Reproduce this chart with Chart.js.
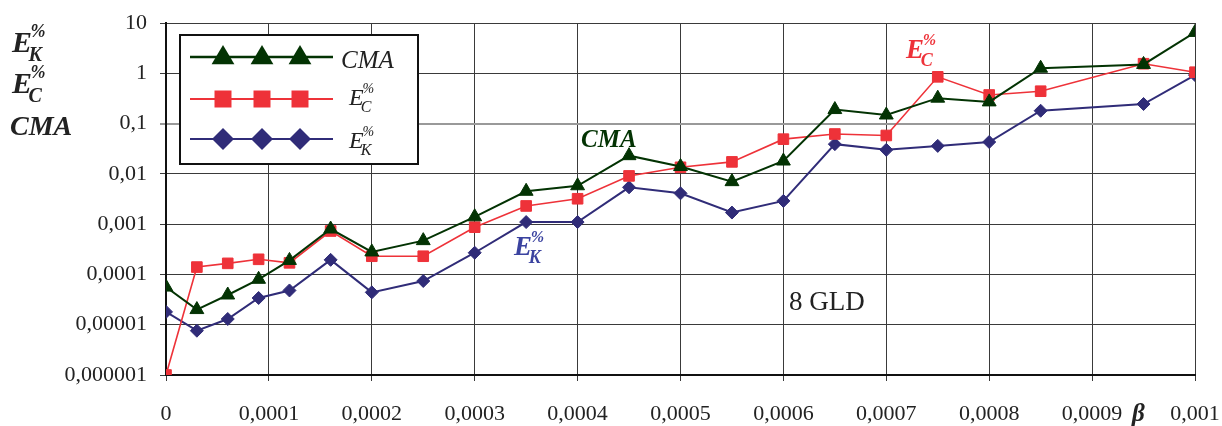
<!DOCTYPE html>
<html>
<head>
<meta charset="utf-8">
<script src="https://cdn.jsdelivr.net/npm/chart.js@4/dist/chart.umd.min.js"></script>
<style>
  html, body { margin: 0; padding: 0; background: #fff; }
  #wrap { width: 1222px; height: 426px; }
</style>
</head>
<body>
<div id="wrap"><canvas id="myChart" width="1222" height="426"></canvas></div>
<script>
// beta values (x) and the three series
const beta = [0, 0.00003, 0.00006, 0.00009, 0.00012, 0.00016, 0.0002, 0.00025, 0.0003, 0.00035, 0.0004,
  0.00045, 0.0005, 0.00055, 0.0006, 0.00065, 0.0007, 0.00075, 0.0008, 0.00085, 0.00095, 0.001];
const cma = [5.6e-5, 2.0e-5, 3.9e-5, 8.0e-5, 1.9e-4, 8.0e-4, 2.8e-4, 4.7e-4, 1.4e-3, 4.5e-3, 5.8e-3,
  0.023, 0.014, 0.007, 0.018, 0.19, 0.148, 0.32, 0.27, 1.26, 1.5, 6.5];
const ec = [1e-6, 1.4e-4, 1.66e-4, 2.0e-4, 1.7e-4, 7.3e-4, 2.3e-4, 2.3e-4, 8.7e-4, 2.3e-3, 3.2e-3,
  0.0091, 0.0135, 0.0173, 0.049, 0.062, 0.058, 0.85, 0.37, 0.44, 1.55, 1.05];
const ek = [1.8e-5, 7.6e-6, 1.3e-5, 3.4e-5, 4.8e-5, 1.95e-4, 4.4e-5, 7.4e-5, 2.7e-4, 1.1e-3, 1.1e-3,
  5.4e-3, 4.1e-3, 1.7e-3, 2.9e-3, 0.039, 0.030, 0.036, 0.043, 0.18, 0.245, 0.92];

const yTicks = [1e-6, 1e-5, 1e-4, 1e-3, 1e-2, 1e-1, 1, 10];
const yTickLabels = ['0,000001', '0,00001', '0,0001', '0,001', '0,01', '0,1', '1', '10'];
const xTicks = [0, 0.0001, 0.0002, 0.0003, 0.0004, 0.0005, 0.0006, 0.0007, 0.0008, 0.0009, 0.001];
const xTickLabels = ['0', '0,0001', '0,0002', '0,0003', '0,0004', '0,0005', '0,0006', '0,0007', '0,0008', '0,0009', '0,001'];

const GREEN = '#033303';
const RED = '#ee3239';
const BLUE = '#302c78';
const SERIF = '"Liberation Serif", "Times New Roman", serif';

const toPoints = (ys) => beta.map((b, i) => ({ x: b, y: ys[i] }));

// E with subscript letter and % superscript
function drawE(ctx, x, base, sub, size, color, bold) {
  const b = bold ? 'bold ' : '';
  ctx.fillStyle = color;
  ctx.textAlign = 'left';
  ctx.textBaseline = 'alphabetic';
  ctx.font = b + 'italic ' + size + 'px ' + SERIF;
  ctx.fillText('E', x, base);
  const w = ctx.measureText('E').width;
  ctx.font = b + 'italic ' + Math.round(size * 0.66) + 'px ' + SERIF;
  ctx.fillText(sub, x + w - size * 0.12, base + size * 0.3);
  ctx.font = b + 'italic ' + Math.round(size * 0.6) + 'px ' + SERIF;
  ctx.fillText('%', x + w - size * 0.05, base - size * 0.5);
}

function marker(ctx, type, x, y, r, color) {
  ctx.fillStyle = color;
  ctx.beginPath();
  if (type === 'tri') {
    ctx.moveTo(x, y - r);
    ctx.lineTo(x + r * 0.95, y + r * 0.6);
    ctx.lineTo(x - r * 0.95, y + r * 0.6);
  } else if (type === 'sq') {
    ctx.rect(x - r, y - r, 2 * r, 2 * r);
  } else {
    ctx.moveTo(x - r, y);
    ctx.lineTo(x, y - r);
    ctx.lineTo(x + r, y);
    ctx.lineTo(x, y + r);
  }
  ctx.closePath();
  ctx.fill();
}

const extras = {
  id: 'extras',
  afterDraw(chart) {
    const ctx = chart.ctx;
    ctx.save();
    // legend box
    ctx.fillStyle = '#fff';
    ctx.fillRect(180, 35, 238, 129);
    ctx.strokeStyle = '#111';
    ctx.lineWidth = 2;
    ctx.strokeRect(180, 35, 238, 129);
    const rows = [
      { y: 57, color: GREEN, type: 'tri', r: 12, lw: 2.5 },
      { y: 99, color: RED, type: 'sq', r: 8.5, lw: 2 },
      { y: 139, color: BLUE, type: 'rect', r: 11, lw: 2 }
    ];
    rows.forEach((row) => {
      ctx.strokeStyle = row.color;
      ctx.lineWidth = row.lw;
      ctx.beginPath();
      ctx.moveTo(190, row.y);
      ctx.lineTo(333, row.y);
      ctx.stroke();
      [223, 262, 300].forEach((mx) => marker(ctx, row.type, mx, row.y, row.r, row.color));
    });
    ctx.fillStyle = '#222';
    ctx.font = 'italic 25px ' + SERIF;
    ctx.textAlign = 'left';
    ctx.textBaseline = 'alphabetic';
    ctx.fillText('CMA', 341, 68);
    drawE(ctx, 349, 105, 'C', 24, '#222', false);
    drawE(ctx, 349, 148, 'K', 24, '#222', false);

    // y axis title
    drawE(ctx, 12, 52, 'K', 30, '#222', true);
    drawE(ctx, 12, 93, 'C', 30, '#222', true);
    ctx.fillStyle = '#222';
    ctx.font = 'bold italic 28px ' + SERIF;
    ctx.fillText('CMA', 10, 135);

    // annotations
    ctx.fillStyle = GREEN;
    ctx.font = 'bold italic 25px ' + SERIF;
    ctx.fillText('CMA', 581, 147);
    drawE(ctx, 514, 255, 'K', 27, '#3b43a0', true);
    drawE(ctx, 906, 58, 'C', 27, RED, true);
    ctx.fillStyle = '#222';
    ctx.font = '27px ' + SERIF;
    ctx.fillText('8 GLD', 789, 310);
    ctx.font = 'bold italic 25px ' + SERIF;
    ctx.fillText('\u03b2', 1132, 421);
    ctx.restore();
  }
};

const ctx = document.getElementById('myChart').getContext('2d');
const myChart = new Chart(ctx, {
  type: 'scatter',
  data: {
    datasets: [
      {
        label: 'CMA',
        data: toPoints(cma),
        showLine: true,
        borderColor: GREEN,
        backgroundColor: GREEN,
        borderWidth: 2,
        pointStyle: 'triangle',
        pointRadius: 8,
        pointBorderWidth: 1,
        order: 1
      },
      {
        label: 'E_C',
        data: toPoints(ec),
        showLine: true,
        borderColor: RED,
        backgroundColor: RED,
        borderWidth: 1.6,
        pointStyle: 'rect',
        pointRadius: 7.5,
        pointBorderWidth: 1,
        order: 2
      },
      {
        label: 'E_K',
        data: toPoints(ek),
        showLine: true,
        borderColor: BLUE,
        backgroundColor: BLUE,
        borderWidth: 2,
        pointStyle: 'rectRot',
        pointRadius: 6.5,
        pointBorderWidth: 1,
        order: 3
      }
    ]
  },
  options: {
    responsive: false,
    animation: false,
    layout: { padding: { top: 23, right: 27, left: 0, bottom: 0 } },
    plugins: {
      legend: { display: false },
      tooltip: { enabled: false }
    },
    scales: {
      x: {
        type: 'linear',
        min: 0,
        max: 0.001,
        afterFit: (scale) => {
          scale.height = 51;
          scale.paddingLeft = 0;
          scale.paddingRight = 0;
        },
        afterBuildTicks: (scale) => { scale.ticks = xTicks.map((v) => ({ value: v })); },
        ticks: {
          callback: (value, index) => xTickLabels[index],
          color: '#222',
          font: { family: SERIF, size: 22 },
          padding: 20,
          maxRotation: 0,
          autoSkip: false
        },
        grid: { color: '#3a3a3a', lineWidth: 1, tickLength: 6 },
        border: { color: '#111', width: 2 }
      },
      y: {
        type: 'logarithmic',
        min: 1e-6,
        max: 10,
        afterFit: (scale) => {
          scale.width = 166;
          scale.paddingTop = 0;
          scale.paddingBottom = 0;
        },
        afterBuildTicks: (scale) => { scale.ticks = yTicks.map((v) => ({ value: v })); },
        ticks: {
          callback: (value, index) => yTickLabels[index],
          color: '#222',
          font: { family: SERIF, size: 22 },
          padding: 13,
          autoSkip: false
        },
        grid: {
          color: (c) => (c.tick && c.tick.value === 0.1 ? '#999' : '#3a3a3a'),
          lineWidth: (c) => (c.tick && c.tick.value === 0.1 ? 2 : 1),
          tickLength: 6
        },
        border: { color: '#111', width: 2 }
      }
    }
  },
  plugins: [extras]
});
</script>
</body>
</html>
